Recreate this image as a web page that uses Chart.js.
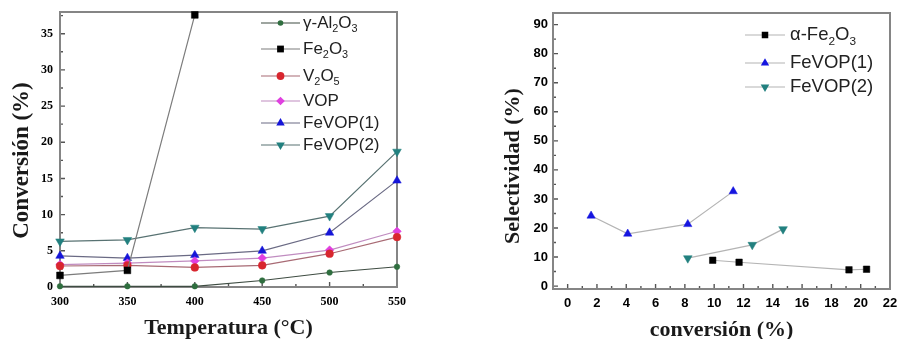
<!DOCTYPE html>
<html>
<head>
<meta charset="utf-8">
<script src="https://cdn.jsdelivr.net/npm/chart.js@4/dist/chart.umd.min.js"></script>
<style>
  html, body { margin: 0; padding: 0; background: #fff; width: 898px; height: 339px; overflow: hidden; }
  canvas { position: absolute; top: 0; }
  #conv { left: 0; }
  #sel { left: 460px; }
</style>
</head>
<body>
<canvas id="conv" width="430" height="339"></canvas>
<canvas id="sel" width="438" height="339"></canvas>
<script>
// ---- Conversion vs temperature ----
const temperatures = [300, 350, 400, 450, 500, 550];
const convAl2O3   = [0.1, 0.1, 0.1, 0.9, 2.0, 2.8];
const convFe2O3   = [1.6, 2.3, 37.6];
const convV2O5    = [2.9, 3.0, 2.7, 3.0, 4.6, 6.9];
const convVOP     = [3.1, 3.3, 3.6, 4.0, 5.1, 7.7];
const convFeVOP1  = [4.3, 4.0, 4.4, 5.0, 7.5, 14.7];
const convFeVOP2  = [6.3, 6.5, 8.2, 8.0, 9.8, 18.7];
const tempTicks   = [300, 350, 400, 450, 500, 550];
const convTicks   = [0, 5, 10, 15, 20, 25, 30, 35];

// ---- Selectivity vs conversion ----
const selFe2O3X  = [9.9, 11.7, 19.2, 20.4];
const selFe2O3Y  = [8.9, 8.2, 5.6, 5.8];
const selFeVOP1X = [1.6, 4.1, 8.2, 11.3];
const selFeVOP1Y = [24.2, 18.0, 21.3, 32.6];
const selFeVOP2X = [8.2, 12.6, 14.7];
const selFeVOP2Y = [9.6, 14.2, 19.6];
const conversionTicks  = [0, 2, 4, 6, 8, 10, 12, 14, 16, 18, 20, 22];
const selectivityTicks = [0, 10, 20, 30, 40, 50, 60, 70, 80, 90];

const pairs = (xs, ys) => xs.map((x, i) => ({ x, y: ys[i] }));

// draws a label where "_n" marks a subscript digit
function drawRich(ctx, text, x, y, size, family, color) {
  const parts = text.split(/(_\d)/).filter(p => p);
  ctx.save();
  ctx.fillStyle = color;
  ctx.textBaseline = 'middle';
  ctx.textAlign = 'left';
  let cx = x;
  for (const p of parts) {
    if (p[0] === '_') {
      const s = p.slice(1);
      ctx.font = `${size * 0.64}px ${family}`;
      ctx.fillText(s, cx, y + size * 0.36);
      cx += ctx.measureText(s).width;
    } else {
      ctx.font = `${size}px ${family}`;
      ctx.fillText(p, cx, y);
      cx += ctx.measureText(p).width;
    }
  }
  ctx.restore();
}

function drawMarker(ctx, style, r, rot, x, y) {
  ctx.beginPath();
  if (style === 'circle') {
    ctx.arc(x, y, r, 0, Math.PI * 2);
  } else if (style === 'rect') {
    const s = r * Math.SQRT1_2;
    ctx.rect(x - s, y - s, 2 * s, 2 * s);
  } else if (style === 'rectRot') {
    ctx.moveTo(x, y - r); ctx.lineTo(x + r, y); ctx.lineTo(x, y + r); ctx.lineTo(x - r, y);
    ctx.closePath();
  } else if (style === 'triangle') {
    let a = (rot || 0) * Math.PI / 180;
    ctx.moveTo(x + Math.sin(a) * r, y - Math.cos(a) * r);
    a += 2 * Math.PI / 3;
    ctx.lineTo(x + Math.sin(a) * r, y - Math.cos(a) * r);
    a += 2 * Math.PI / 3;
    ctx.lineTo(x + Math.sin(a) * r, y - Math.cos(a) * r);
    ctx.closePath();
  }
  ctx.fill();
}

// frame around the plot with inward major/minor ticks on bottom and left
const frameTicks = {
  id: 'frameTicks',
  beforeDatasetsDraw(chart, args, o) {
    const { ctx, chartArea: a, scales } = chart;
    ctx.save();
    ctx.strokeStyle = o.tickColor;
    ctx.lineWidth = 1.4;
    const minors = (scale) => {
      const v = scale.ticks.map(t => t.value);
      const step = v[1] - v[0];
      const out = [];
      for (let m = v[0] - step / 2; m <= scale.max + 1e-9; m += step) {
        if (m >= scale.min - 1e-9) out.push(m);
      }
      return out;
    };
    const xs = scales.x, ys = scales.y;
    ctx.beginPath();
    xs.ticks.forEach(t => { const p = xs.getPixelForValue(t.value); ctx.moveTo(p, a.bottom); ctx.lineTo(p, a.bottom - 5); });
    minors(xs).forEach(m => { const p = xs.getPixelForValue(m); ctx.moveTo(p, a.bottom); ctx.lineTo(p, a.bottom - 3); });
    ys.ticks.forEach(t => { const p = ys.getPixelForValue(t.value); ctx.moveTo(a.left, p); ctx.lineTo(a.left + 5, p); });
    minors(ys).forEach(m => { const p = ys.getPixelForValue(m); ctx.moveTo(a.left, p); ctx.lineTo(a.left + 3, p); });
    ctx.stroke();
    ctx.strokeStyle = o.frameColor;
    ctx.lineWidth = 2;
    ctx.strokeRect(a.left, a.top, a.right - a.left, a.bottom - a.top);
    ctx.restore();
  }
};

// vertical axis title, placed beside the plot
const sideTitle = {
  id: 'sideTitle',
  afterDraw(chart, args, o) {
    const { ctx, chartArea: a } = chart;
    ctx.save();
    ctx.translate(o.x, (a.top + a.bottom) / 2 + o.dy);
    ctx.rotate(-Math.PI / 2);
    ctx.fillStyle = '#1a1a1a';
    ctx.font = `bold ${o.size}px "Liberation Serif", "Times New Roman", serif`;
    ctx.textAlign = 'center';
    ctx.textBaseline = 'middle';
    ctx.fillText(o.text, 0, 0);
    ctx.restore();
  }
};

// legend drawn inside the plot area
const insetLegend = {
  id: 'insetLegend',
  afterDraw(chart, args, o) {
    const ctx = chart.ctx;
    chart.data.datasets.forEach((ds, i) => {
      const y = o.rows[i];
      ctx.save();
      ctx.strokeStyle = ds.borderColor;
      ctx.lineWidth = 1.2;
      ctx.beginPath();
      ctx.moveTo(o.x0, y); ctx.lineTo(o.x1, y);
      ctx.stroke();
      ctx.fillStyle = ds.pointBackgroundColor;
      drawMarker(ctx, ds.pointStyle, ds.pointRadius, ds.pointRotation, (o.x0 + o.x1) / 2, y);
      ctx.restore();
      drawRich(ctx, ds.label, o.tx, y, o.size, o.family, o.color);
    });
  }
};

function series(label, data, line, fill, style, r, rot) {
  return {
    label, data,
    borderColor: line, borderWidth: 1.2,
    pointBackgroundColor: fill, pointBorderColor: fill, pointBorderWidth: 0.5,
    pointStyle: style, pointRadius: r, pointRotation: rot || 0, pointHoverRadius: r,
    tension: 0, clip: false
  };
}

function axisOptions(cfg) {
  return {
    type: 'linear',
    position: cfg.position,
    min: cfg.min, max: cfg.max,
    grid: { display: false, drawTicks: false },
    border: { display: false },
    ticks: {
      color: '#000', padding: cfg.pad,
      font: { family: cfg.tickFamily, size: cfg.tickSize, weight: 'bold' },
      autoSkip: false, maxRotation: 0
    },
    afterBuildTicks: s => { s.ticks = cfg.ticks.map(v => ({ value: v })); },
    afterFit: s => {
      if (cfg.position === 'bottom') s.height = cfg.size; else s.width = cfg.size;
      s.paddingLeft = 0; s.paddingRight = 0; s.paddingTop = 0; s.paddingBottom = 0;
    },
    title: {
      display: !!cfg.title, text: cfg.title || '', color: '#1a1a1a',
      font: { family: '"Liberation Serif", "Times New Roman", serif', size: cfg.titleSize || 12, weight: 'bold', lineHeight: 1 },
      padding: cfg.titlePad || 0
    }
  };
}

Chart.defaults.animation = false;

new Chart(document.getElementById('conv'), {
  type: 'line',
  data: {
    datasets: [
      series('γ-Al_2O_3', pairs(temperatures, convAl2O3), '#3e4c42', '#2f6e3f', 'circle', 2.8),
      series('Fe_2O_3', pairs(temperatures, convFe2O3), '#7c7c7c', '#000000', 'rect', 4.8),
      series('V_2O_5', pairs(temperatures, convV2O5), '#a86a74', '#d8262e', 'circle', 3.9),
      series('VOP', pairs(temperatures, convVOP), '#c08cc0', '#e040e0', 'rectRot', 4.3),
      series('FeVOP(1)', pairs(temperatures, convFeVOP1), '#6a6a84', '#1515d8', 'triangle', 4.9),
      series('FeVOP(2)', pairs(temperatures, convFeVOP2), '#587272', '#22807f', 'triangle', 5.0, 180)
    ]
  },
  options: {
    responsive: false, devicePixelRatio: 1,
    layout: { padding: { left: 0, right: 33, top: 12, bottom: 0 } },
    plugins: {
      legend: { display: false }, tooltip: { enabled: false },
      frameTicks: { frameColor: '#858585', tickColor: '#555' },
      sideTitle: { text: 'Conversión (%)', size: 23, x: 22, dy: 11 },
      insetLegend: { x0: 261, x1: 300, tx: 303, rows: [23, 49, 76, 101, 123, 145], size: 17,
                     family: '"Liberation Sans", Arial, sans-serif', color: '#222' }
    },
    scales: {
      x: axisOptions({ position: 'bottom', min: 300, max: 550, ticks: tempTicks, pad: 8,
                       tickFamily: '"Liberation Serif", serif', tickSize: 12, size: 52,
                       title: 'Temperatura (°C)', titleSize: 22, titlePad: { top: 0, bottom: 0 } }),
      y: axisOptions({ position: 'left', min: 0, max: 38, ticks: convTicks, pad: 7,
                       tickFamily: '"Liberation Serif", serif', tickSize: 12, size: 60 })
    }
  },
  plugins: [frameTicks, sideTitle, insetLegend]
});

new Chart(document.getElementById('sel'), {
  type: 'line',
  data: {
    datasets: [
      series('α-Fe_2O_3', pairs(selFe2O3X, selFe2O3Y), '#b4b4b4', '#000000', 'rect', 4.6),
      series('FeVOP(1)', pairs(selFeVOP1X, selFeVOP1Y), '#b4b4b4', '#1515e0', 'triangle', 4.8),
      series('FeVOP(2)', pairs(selFeVOP2X, selFeVOP2Y), '#b4b4b4', '#22807f', 'triangle', 5.0, 180)
    ]
  },
  options: {
    responsive: false, devicePixelRatio: 1,
    layout: { padding: { left: 0, right: 8, top: 13, bottom: 0 } },
    plugins: {
      legend: { display: false }, tooltip: { enabled: false },
      frameTicks: { frameColor: '#858585', tickColor: '#555' },
      sideTitle: { text: 'Selectividad (%)', size: 22, x: 53.5, dy: 15 },
      insetLegend: { x0: 285, x1: 325, tx: 330, rows: [35, 63, 87], size: 18.5,
                     family: '"Liberation Sans", Arial, sans-serif', color: '#222' }
    },
    scales: {
      x: axisOptions({ position: 'bottom', min: -1, max: 22, ticks: conversionTicks, pad: 7,
                       tickFamily: '"Liberation Sans", Arial, sans-serif', tickSize: 13, size: 50,
                       title: 'conversión (%)', titleSize: 22, titlePad: { top: 0, bottom: -2 } }),
      y: axisOptions({ position: 'left', min: -1, max: 94, ticks: selectivityTicks, pad: 5,
                       tickFamily: '"Liberation Sans", Arial, sans-serif', tickSize: 13, size: 93 })
    }
  },
  plugins: [frameTicks, sideTitle, insetLegend]
});
</script>
</body>
</html>
